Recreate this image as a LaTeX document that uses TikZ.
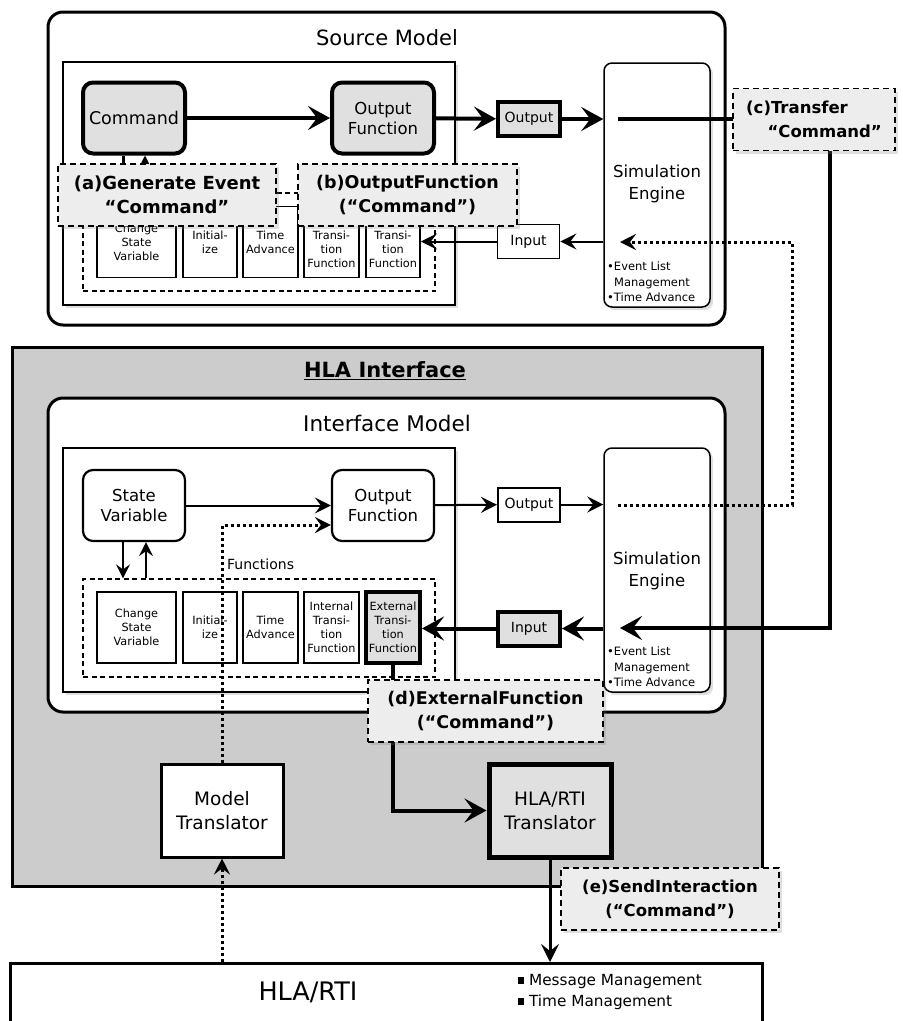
\documentclass[tikz,border=0pt]{standalone}
\usepackage{fontspec}
\setmainfont{DejaVu Sans}
\usetikzlibrary{arrows.meta,shadows,calc}

\begin{document}
\begin{tikzpicture}[x=1pt,y=-1pt,
  shade/.style={drop shadow={opacity=0.25,shadow xshift=3pt,shadow yshift=-3pt}},
  container/.style={draw,line width=3pt,rounded corners=15pt,inner sep=0pt},
  innerbox/.style={draw,line width=1.2pt,fill=white,shade,inner sep=0pt},
  fnode/.style={draw,rounded corners=10pt,minimum width=102pt,minimum height=71pt,inner sep=0pt,align=center,
    font=\fontsize{16.5}{20}\selectfont},
  hot/.style={line width=4pt,fill=black!12},
  cool/.style={line width=2.2pt,fill=white},
  fbox/.style={draw,line width=1.8pt,fill=white,minimum height=71pt,inner sep=0pt,align=center,
    font=\fontsize{11.3}{14}\selectfont},
  iobox/.style={draw,minimum width=62pt,minimum height=34pt,inner sep=0pt,font=\fontsize{14}{16}\selectfont},
  engine/.style={draw,line width=1.5pt,rounded corners=8pt,fill=white,shade,minimum width=106pt,minimum height=244pt,inner sep=0pt},
  enginetxt/.style={align=center,font=\fontsize{16.5}{22}\selectfont},
  bullettxt/.style={align=left,anchor=west,font=\fontsize{11.5}{15.5}\selectfont,inner sep=0pt},
  fgroup/.style={draw,dash pattern=on 5pt off 3.5pt,line width=1.2pt,minimum width=352pt,minimum height=98pt,inner sep=0pt},
  callout/.style={draw,dash pattern=on 6pt off 4pt,line width=1.3pt,fill=black!7,shade,minimum height=62pt,inner sep=0pt,align=center,
    font=\bfseries\fontsize{18}{24}\selectfont},
  title/.style={font=\fontsize{21}{24}\selectfont},
  xbox/.style={draw,minimum width=122pt,minimum height=93pt,inner sep=0pt,align=center,font=\fontsize{18.5}{24}\selectfont},
  thickarr/.style={line width=4pt,-{Stealth[length=22pt,width=24pt,inset=9pt]}},
  thinarr/.style={line width=2pt,-{Stealth[length=16pt,width=16pt,inset=6pt]}},
  medarr/.style={line width=3pt,-{Stealth[length=18pt,width=18pt,inset=7pt]}},
  dotarr/.style={line width=3pt,dash pattern=on 3pt off 3pt,-{Stealth[length=16pt,width=16pt,inset=6pt]}},
  updown/.style={-{Stealth[length=14pt,width=14pt,inset=5pt]}},
]
\useasboundingbox (0,0) rectangle (903,1021);
\clip (0,0) rectangle (903,1021);

% ---------------- Source model ----------------
\node[container,minimum width=677pt,minimum height=313pt] (srcmodel) at (386.5,168.5) {};
\node[title] (srctitle) at (387,38) {Source Model};
\node[innerbox,minimum width=392pt,minimum height=243pt] (srcin) at (259,183.5) {};
\node[engine] (ssim) at (657,185) {};
\node[enginetxt] (ssimtxt) at (657,184) {Simulation\\Engine};
\node[bullettxt] (ssimlist) at (607,282) {•Event List\\\hspace*{0.6em}Management\\•Time Advance};

\node[fnode,hot,font=\fontsize{17.5}{20}\selectfont] (cmd) at (134,118) {Command};
\node[fnode,hot] (sof) at (383,118) {Output\\Function};
\node[iobox,hot] (sout) at (529,119) {Output};
\node[iobox,line width=1.8pt] (sinp) at (528.5,241.5) {Input};

\node[fgroup] (sfun) at (259,242) {};
\node[fbox,minimum width=79pt] (scsv) at (136.5,242) {Change\\State\\Variable};
\node[fbox,minimum width=54pt] (sini) at (210,242) {Initial-\\ize};
\node[fbox,minimum width=55pt] (sta) at (270.5,242) {Time\\Advance};
\node[fbox,minimum width=55pt] (sitf) at (331.5,242) {Internal\\Transi-\\tion\\Function};
\node[fbox,minimum width=54pt] (setf) at (393,242) {External\\Transi-\\tion\\Function};

\draw[thickarr] (cmd) -- (sof);
\draw[thickarr] (sof) -- (sout);
\draw[thickarr] (sout) -- (sout -| ssim.west);
\draw[line width=3pt,updown] ([xshift=-11pt]cmd.south) -- ([xshift=-11pt]cmd.south |- sfun.north);
\draw[line width=3pt,updown] ([xshift=11pt]cmd.south |- sfun.north) -- ([xshift=11pt]cmd.south);
\draw[thinarr] (ssim.west |- sinp) -- (sinp);
\draw[thinarr] (sinp) -- (sinp -| setf.east);

% ---------------- HLA interface ----------------
\node[draw,line width=3pt,fill=black!20,minimum width=750pt,minimum height=539pt,inner sep=0pt] (hla) at (387,616.5) {};
\node[font=\bfseries\fontsize{21}{24}\selectfont] (hlatitle) at (385,371) {\underline{HLA Interface}};
\node[container,fill=white,minimum width=677pt,minimum height=314pt] (ifmodel) at (386.5,555) {};
\node[title,font=\fontsize{21.5}{24}\selectfont] (iftitle) at (387,423) {Interface Model};
\node[innerbox,minimum width=392pt,minimum height=244pt] (ifin) at (259,570) {};
\node[engine] (isim) at (657,570) {};
\node[enginetxt] (isimtxt) at (657,571) {Simulation\\Engine};
\node[bullettxt] (isimlist) at (607,667) {•Event List\\\hspace*{0.6em}Management\\•Time Advance};

\node[fnode,cool] (sv) at (134,505.5) {State\\Variable};
\node[fnode,cool] (iof) at (383,505.5) {Output\\Function};
\node[iobox,line width=2pt,fill=white] (iout) at (529,504.5) {Output};
\node[iobox,hot] (iinp) at (529,628.5) {Input};

\node[anchor=west,inner sep=0pt,font=\fontsize{14}{16}\selectfont] (funlbl) at (227,564) {Functions};
\node[fgroup] (ifun) at (259,628) {};
\node[fbox,minimum width=79pt] (icsv) at (136.5,627.5) {Change\\State\\Variable};
\node[fbox,minimum width=54pt] (iini) at (210,627.5) {Initial-\\ize};
\node[fbox,minimum width=55pt] (ita) at (270.5,627.5) {Time\\Advance};
\node[fbox,minimum width=55pt] (iitf) at (331.5,627.5) {Internal\\Transi-\\tion\\Function};
\node[fbox,minimum width=54pt,line width=4pt,fill=black!12] (ietf) at (393,627.5) {External\\Transi-\\tion\\Function};

\draw[thinarr] (sv.east |- iof) -- (iof);
\draw[thinarr] (iof) -- (iout);
\draw[thinarr] (iout) -- (iout -| isim.west);
\draw[line width=2pt,updown] ([xshift=-11pt]sv.south) -- ([xshift=-11pt]sv.south |- ifun.north);
\draw[line width=2pt,updown] ([xshift=12pt]sv.south |- ifun.north) -- ([xshift=12pt]sv.south);
\draw[thickarr] (isim.west |- iinp) -- (iinp);
\draw[thickarr] (iinp) -- (iinp -| ietf.east);

% translators
\node[xbox,line width=3pt,fill=white] (mt) at (222,810.5) {Model\\Translator};
\node[xbox,line width=5pt,fill=black!12] (hrt) at (550,810.5) {HLA/RTI\\Translator};
\draw[thickarr] (ietf.south) -- (ietf.south |- hrt) -- (hrt.west);

% ---------------- RTI ----------------
\node[draw,line width=3pt,fill=white,minimum width=752pt,minimum height=80pt,inner sep=0pt,anchor=north] (rti) at (386,962) {};
\node[font=\fontsize{25.5}{28}\selectfont] (rtititle) at (308,992) {HLA/RTI};
\node[align=left,anchor=west,inner sep=0pt,font=\fontsize{15.3}{21}\selectfont] (rtilist) at (518,992)
  {\rule[1pt]{6pt}{7pt}\ Message Management\\\rule[1pt]{6pt}{7pt}\ Time Management};

\draw[dotarr] (mt.north) -- (mt.north |- 0,525) -- (iof.west |- 0,525);
\draw[dotarr] (rti.north -| mt) -- (mt.south);
\draw[medarr] (hrt.south) -- (hrt.south |- rti.north);

% ---------------- transfers between the two engines ----------------
\coordinate (sgo) at (618,119);
\coordinate (sin) at (620,242);
\coordinate (igo) at (618,505);
\coordinate (iin) at (620,628);
\coordinate (cturn) at (830,628);
\coordinate (dturn) at (792,505);

\draw[line width=4pt] (sgo) -- (733,119);
\draw[dotarr] (igo) -- (dturn) -- (dturn |- sin) -- (sin);
\draw[thickarr] (830,140) -- (cturn) -- (iin);

% ---------------- call-outs ----------------
\node[callout,minimum width=218pt] (la) at (167,195) {(a)Generate Event\\“Command”};
\node[callout,minimum width=219pt,font=\bfseries\fontsize{17.5}{24}\selectfont] (lb) at (407.5,195) {(b)OutputFunction\\(“Command”)};
\node[callout,minimum width=162pt,align=left,font=\bfseries\fontsize{16.5}{24}\selectfont] (lc) at (814,119.5) {(c)Transfer\\\hspace*{1.3em}“Command”};
\node[callout,minimum width=235pt,font=\bfseries\fontsize{17.5}{24}\selectfont] (ld) at (485.5,711) {(d)ExternalFunction\\(“Command”)};
\node[callout,minimum width=218pt,font=\bfseries\fontsize{16.5}{24}\selectfont] (le) at (670,899) {(e)SendInteraction\\(“Command”)};
\end{tikzpicture}
\end{document}
